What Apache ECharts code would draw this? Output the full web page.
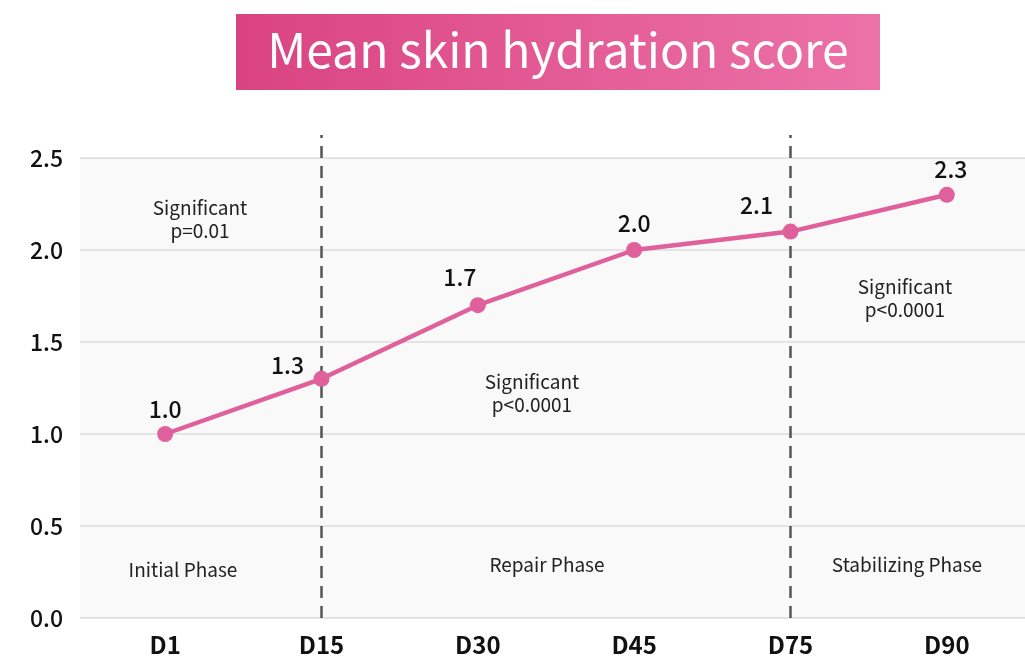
<!DOCTYPE html>
<html><head><meta charset="utf-8">
<script src="https://cdn.jsdelivr.net/npm/echarts@6/dist/echarts.min.js"></script>
<style>html,body{margin:0;padding:0;background:#fff}#c{width:1025px;height:662px}</style>
</head><body><div id="c"></div>
<script>
const titleText = 'Mean skin hydration score';
const categories = ['D1', 'D15', 'D30', 'D45', 'D75', 'D90'];
const scores = [1.0, 1.3, 1.7, 2.0, 2.1, 2.3];
const yTicks = [0, 0.5, 1.0, 1.5, 2.0, 2.5];
const phaseDividers = ['D15', 'D75'];
const phaseNames = ['Initial Phase', 'Repair Phase', 'Stabilizing Phase'];
const significance = ['Significant\np=0.01', 'Significant\np<0.0001', 'Significant\np<0.0001'];

const FONT = '"Noto Sans CJK SC", "Noto Sans", sans-serif';
const labelOffset = [[0, 0], [-34, 11], [-18, -3], [0, -2], [-34, -2], [4, -1]];

const chart = echarts.init(document.getElementById('c'));
chart.setOption({
  animation: false,
  backgroundColor: '#ffffff',
  grid: [
    {left: 80, right: 0, top: 158, bottom: 44, show: true, backgroundColor: '#f8f9f8', borderWidth: 0},
    {left: 87, right: -2, top: 158, bottom: 44},
    {left: 87, right: -2, top: 135, bottom: 44}
  ],
  xAxis: [
    {gridIndex: 0, type: 'value', min: 0, max: 1, show: false},
    {gridIndex: 1, type: 'category', data: categories, boundaryGap: true,
     axisLine: {show: false}, axisTick: {show: false},
     axisLabel: {margin: 15, fontFamily: FONT, fontSize: 24, fontWeight: 'bold', color: '#111'}},
    {gridIndex: 2, type: 'category', data: categories, boundaryGap: true, show: false}
  ],
  yAxis: [
    {gridIndex: 0, type: 'value', min: yTicks[0], max: yTicks[yTicks.length - 1], interval: 0.5,
     axisLine: {show: false}, axisTick: {show: false},
     splitLine: {show: true, lineStyle: {color: '#dddddd', width: 1.5}},
     axisLabel: {margin: 17, fontFamily: FONT, fontSize: 23, fontWeight: 500, color: '#111',
       formatter: v => v.toFixed(1)}},
    {gridIndex: 1, type: 'value', min: yTicks[0], max: yTicks[yTicks.length - 1], interval: 0.5, show: false},
    {gridIndex: 2, type: 'value', min: 0, max: 1, show: false}
  ],
  series: [
    {
      type: 'line', xAxisIndex: 2, yAxisIndex: 2, data: [], silent: true,
      markLine: {
        symbol: 'none', silent: true, label: {show: false},
        lineStyle: {type: [12, 8], color: '#555', width: 2.5},
        data: phaseDividers.map(d => ({xAxis: d}))
      }
    },
    {
      type: 'line', xAxisIndex: 1, yAxisIndex: 1, z: 5,
      data: scores.map((v, i) => ({value: v, label: {offset: labelOffset[i]}})),
      symbol: 'circle', symbolSize: 16,
      lineStyle: {color: '#e0609b', width: 4.5},
      itemStyle: {color: '#e0609b'},
      label: {show: true, position: 'top', distance: 5, fontFamily: FONT, fontSize: 23, fontWeight: 500, color: '#111',
        formatter: p => p.value.toFixed(1)}
    }
  ],
  graphic: [
    {type: 'rect', left: 236, top: 14, shape: {width: 644, height: 76},
     style: {fill: new echarts.graphic.LinearGradient(0, 0, 1, 0, [
       {offset: 0, color: '#da4382'}, {offset: 1, color: '#ec72a8'}])}},
    {type: 'text', x: 558, y: 50, style: {text: titleText, fill: '#fff', font: '48px ' + FONT,
      align: 'center', verticalAlign: 'middle'}},
    {type: 'text', x: 200, y: 219, style: {text: significance[0], fill: '#222', font: '19px ' + FONT,
      align: 'center', verticalAlign: 'middle', lineHeight: 23}},
    {type: 'text', x: 532, y: 393, style: {text: significance[1], fill: '#222', font: '19px ' + FONT,
      align: 'center', verticalAlign: 'middle', lineHeight: 23}},
    {type: 'text', x: 905, y: 298, style: {text: significance[2], fill: '#222', font: '19px ' + FONT,
      align: 'center', verticalAlign: 'middle', lineHeight: 23}},
    {type: 'text', x: 183, y: 570, style: {text: phaseNames[0], fill: '#222', font: '19px ' + FONT,
      align: 'center', verticalAlign: 'middle'}},
    {type: 'text', x: 547, y: 565, style: {text: phaseNames[1], fill: '#222', font: '19px ' + FONT,
      align: 'center', verticalAlign: 'middle'}},
    {type: 'text', x: 907, y: 565, style: {text: phaseNames[2], fill: '#222', font: '19px ' + FONT,
      align: 'center', verticalAlign: 'middle'}}
  ]
});
</script></body></html>
